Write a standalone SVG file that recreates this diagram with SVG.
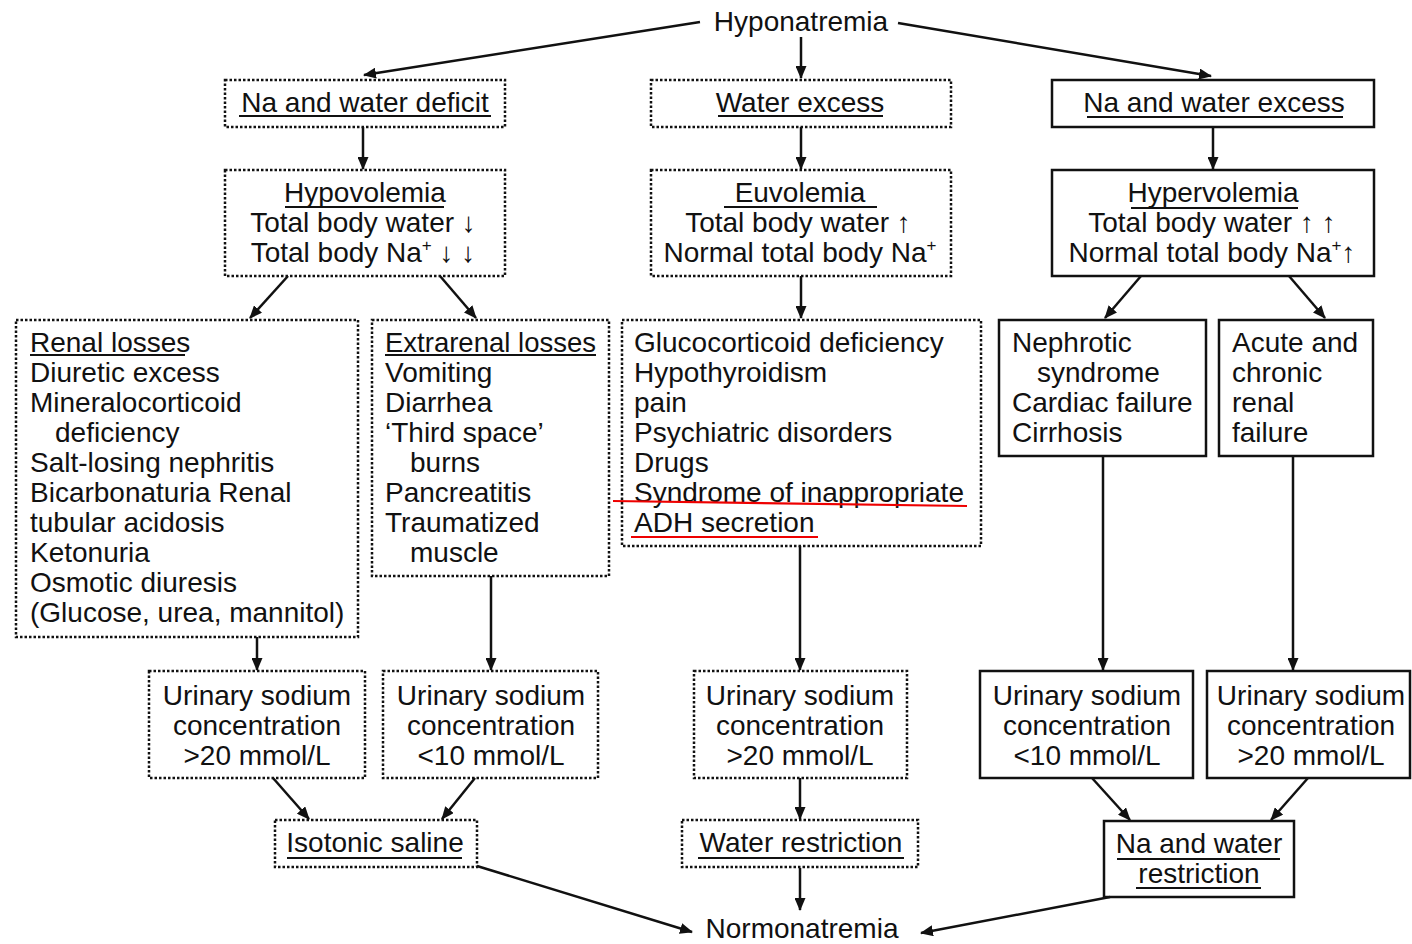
<svg xmlns="http://www.w3.org/2000/svg" width="1412" height="944" viewBox="0 0 1412 944">
<style>
text{font-family:"Liberation Sans",Arial,sans-serif;font-size:28px;fill:#111}
.c{text-anchor:middle}
.dot{fill:none;stroke:#111;stroke-width:2.5;stroke-dasharray:2.5 2}
.sol{fill:none;stroke:#111;stroke-width:2.5}
.ul{stroke:#111;stroke-width:2}
.red{stroke:#e00;stroke-width:2.2}
.con path{fill:none;stroke:#111;stroke-width:2.5;marker-end:url(#ah)}
.sup{font-size:17px}
</style>
<defs>
<marker id="ah" markerUnits="userSpaceOnUse" markerWidth="13" markerHeight="11" refX="12" refY="5.5" orient="auto">
<path d="M0,0 L13,5.5 L0,11 z" fill="#111"/>
</marker>
</defs>
<rect width="1412" height="944" fill="#fff"/>

<g id="hyponatremia"><text class="c" x="801" y="31">Hyponatremia</text></g>

<g id="na-water-deficit">
<rect class="dot" x="225" y="80" width="280" height="47"/>
<text class="c" x="365" y="112">Na and water deficit</text>
<line class="ul" x1="239" y1="116" x2="491" y2="116"/>
</g>
<g id="water-excess">
<rect class="dot" x="651" y="80" width="300" height="47"/>
<text class="c" x="800" y="112">Water excess</text>
<line class="ul" x1="718" y1="116" x2="883" y2="116"/>
</g>
<g id="na-water-excess">
<rect class="sol" x="1052" y="80" width="322" height="47"/>
<text class="c" x="1214" y="112">Na and water excess</text>
<line class="ul" x1="1087" y1="117" x2="1343" y2="117"/>
</g>

<g id="hypovolemia">
<rect class="dot" x="225" y="170" width="280" height="106"/>
<text class="c" x="365" y="202">Hypovolemia</text>
<line class="ul" x1="285" y1="207" x2="444" y2="207"/>
<text class="c" x="363" y="232">Total body water ↓</text>
<text class="c" x="363" y="262">Total body Na<tspan class="sup" dy="-11">+</tspan><tspan dy="11"> ↓ ↓</tspan></text>
</g>
<g id="euvolemia">
<rect class="dot" x="651" y="170" width="300" height="106"/>
<text class="c" x="800" y="202">Euvolemia</text>
<line class="ul" x1="724" y1="207" x2="877" y2="207"/>
<text class="c" x="798" y="232">Total body water ↑</text>
<text class="c" x="800" y="262">Normal total body Na<tspan class="sup" dy="-11">+</tspan></text>
</g>
<g id="hypervolemia">
<rect class="sol" x="1052" y="170" width="322" height="106"/>
<text class="c" x="1213" y="202">Hypervolemia</text>
<line class="ul" x1="1131" y1="208" x2="1298" y2="208"/>
<text class="c" x="1212" y="232">Total body water ↑ ↑</text>
<text class="c" x="1212" y="262">Normal total body Na<tspan class="sup" dy="-11">+</tspan><tspan dy="11">↑</tspan></text>
</g>

<g id="renal-losses">
<rect class="dot" x="16" y="320" width="342" height="317"/>
<text x="30" y="352">Renal losses</text>
<line class="ul" x1="30" y1="355" x2="185" y2="355"/>
<text x="30" y="382">Diuretic excess</text>
<text x="30" y="412">Mineralocorticoid</text>
<text x="55" y="442">deficiency</text>
<text x="30" y="472">Salt-losing nephritis</text>
<text x="30" y="502">Bicarbonaturia Renal</text>
<text x="30" y="532">tubular acidosis</text>
<text x="30" y="562">Ketonuria</text>
<text x="30" y="592">Osmotic diuresis</text>
<text x="30" y="622">(Glucose, urea, mannitol)</text>
</g>
<g id="extrarenal-losses">
<rect class="dot" x="372" y="320" width="237" height="256"/>
<text x="385" y="352" textLength="211" lengthAdjust="spacingAndGlyphs">Extrarenal losses</text>
<line class="ul" x1="385" y1="355" x2="596" y2="355"/>
<text x="385" y="382">Vomiting</text>
<text x="385" y="412">Diarrhea</text>
<text x="385" y="442">‘Third space’</text>
<text x="410" y="472">burns</text>
<text x="385" y="502">Pancreatitis</text>
<text x="385" y="532">Traumatized</text>
<text x="410" y="562">muscle</text>
</g>
<g id="euvolemic-causes">
<rect class="dot" x="622" y="320" width="359" height="226"/>
<text x="634" y="352">Glucocorticoid deficiency</text>
<text x="634" y="382">Hypothyroidism</text>
<text x="634" y="412">pain</text>
<text x="634" y="442">Psychiatric disorders</text>
<text x="634" y="472">Drugs</text>
<text x="634" y="502">Syndrome of inappropriate</text>
<text x="634" y="532">ADH secretion</text>
<line class="red" x1="613" y1="501" x2="967" y2="506"/>
<line class="red" x1="631" y1="537" x2="818" y2="537"/>
</g>
<g id="nephrotic">
<rect class="sol" x="999" y="320" width="207" height="136"/>
<text x="1012" y="352">Nephrotic</text>
<text x="1037" y="382">syndrome</text>
<text x="1012" y="412">Cardiac failure</text>
<text x="1012" y="442">Cirrhosis</text>
</g>
<g id="renal-failure">
<rect class="sol" x="1219" y="320" width="154" height="136"/>
<text x="1232" y="352">Acute and</text>
<text x="1232" y="382">chronic</text>
<text x="1232" y="412">renal</text>
<text x="1232" y="442">failure</text>
</g>

<g id="urinary-1">
<rect class="dot" x="149" y="671" width="216" height="107"/>
<text class="c" x="257" y="705">Urinary sodium</text>
<text class="c" x="257" y="735">concentration</text>
<text class="c" x="257" y="765">&gt;20 mmol/L</text>
</g>
<g id="urinary-2">
<rect class="dot" x="383" y="671" width="215" height="107"/>
<text class="c" x="491" y="705">Urinary sodium</text>
<text class="c" x="491" y="735">concentration</text>
<text class="c" x="491" y="765">&lt;10 mmol/L</text>
</g>
<g id="urinary-3">
<rect class="dot" x="694" y="671" width="213" height="107"/>
<text class="c" x="800" y="705">Urinary sodium</text>
<text class="c" x="800" y="735">concentration</text>
<text class="c" x="800" y="765">&gt;20 mmol/L</text>
</g>
<g id="urinary-4">
<rect class="sol" x="980" y="671" width="213" height="107"/>
<text class="c" x="1087" y="705">Urinary sodium</text>
<text class="c" x="1087" y="735">concentration</text>
<text class="c" x="1087" y="765">&lt;10 mmol/L</text>
</g>
<g id="urinary-5">
<rect class="sol" x="1207" y="671" width="203" height="107"/>
<text class="c" x="1311" y="705">Urinary sodium</text>
<text class="c" x="1311" y="735">concentration</text>
<text class="c" x="1311" y="765">&gt;20 mmol/L</text>
</g>

<g id="isotonic-saline">
<rect class="dot" x="275" y="820" width="202" height="47"/>
<text class="c" x="375" y="852">Isotonic saline</text>
<line class="ul" x1="287" y1="858" x2="462" y2="858"/>
</g>
<g id="water-restriction">
<rect class="dot" x="682" y="820" width="236" height="47"/>
<text class="c" x="801" y="852">Water restriction</text>
<line class="ul" x1="698" y1="858" x2="904" y2="858"/>
</g>
<g id="na-water-restriction">
<rect class="sol" x="1104" y="821" width="190" height="76"/>
<text class="c" x="1199" y="853">Na and water</text>
<line class="ul" x1="1117" y1="859" x2="1280" y2="859"/>
<text class="c" x="1199" y="883">restriction</text>
<line class="ul" x1="1136" y1="888" x2="1261" y2="888"/>
</g>

<g id="normonatremia"><text class="c" x="802" y="938">Normonatremia</text></g>

<g id="connectors" class="con">
<path d="M700,22 L364,75"/>
<path d="M801,37 L801,78"/>
<path d="M898,23 L1211,76"/>
<path d="M363,127 L363,169"/>
<path d="M801,127 L801,169"/>
<path d="M1213,127 L1213,169"/>
<path d="M288,276 L250,318"/>
<path d="M440,276 L476,318"/>
<path d="M801,276 L801,318"/>
<path d="M1141,276 L1105,318"/>
<path d="M1289,276 L1325,318"/>
<path d="M257,637 L257,670"/>
<path d="M491,576 L491,670"/>
<path d="M800,546 L800,670"/>
<path d="M1103,456 L1103,670"/>
<path d="M1293,456 L1293,670"/>
<path d="M273,778 L309,819"/>
<path d="M475,778 L442,819"/>
<path d="M800,778 L800,819"/>
<path d="M1092,778 L1130,820"/>
<path d="M1308,778 L1271,820"/>
<path d="M477,866 L692,932"/>
<path d="M800,868 L800,910"/>
<path d="M1110,897 L921,933"/>
</g>
</svg>
